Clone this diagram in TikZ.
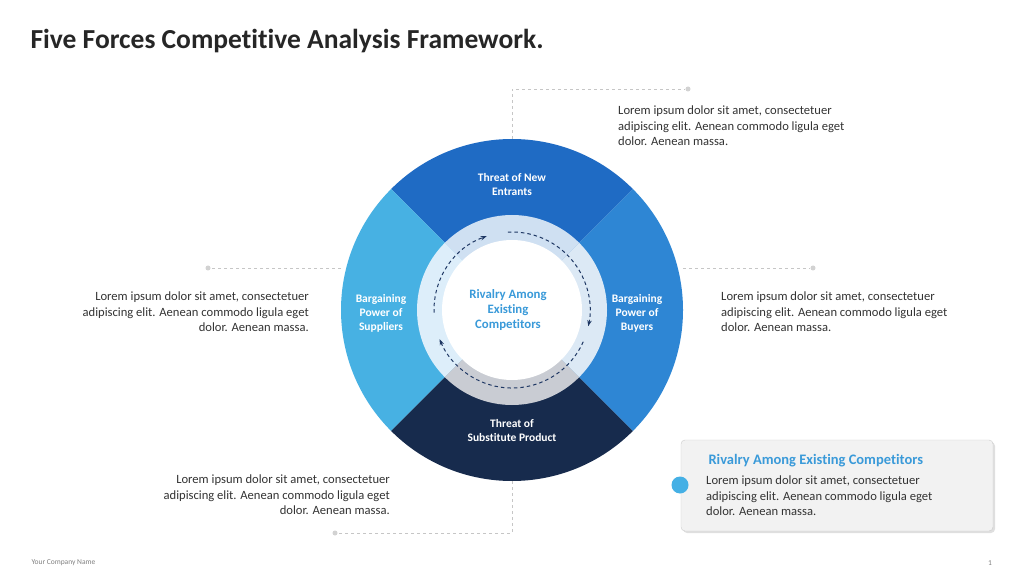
\documentclass[tikz,border=0pt]{standalone}
\usepackage{fontspec}
\setmainfont{Carlito}[Ligatures=NoCommon]
\usetikzlibrary{arrows.meta,shadows,calc}
\definecolor{segT}{HTML}{1F6BC4}
\definecolor{segR}{HTML}{2E86D4}
\definecolor{segB}{HTML}{172B4D}
\definecolor{segL}{HTML}{47B1E3}
\definecolor{rinT}{HTML}{CFE0F2}
\definecolor{rinR}{HTML}{DCE9F5}
\definecolor{rinB}{HTML}{C9CCD3}
\definecolor{rinL}{HTML}{DDEEFA}
\definecolor{accent}{HTML}{3A9AD9}
\definecolor{dotc}{HTML}{45B0E5}
\definecolor{txt}{HTML}{333333}
\definecolor{navy}{HTML}{1F3864}
\begin{document}
\begin{tikzpicture}[x=1pt,y=1pt,
  body/.style={text=txt,font=\fontsize{12.6}{15.5}\selectfont,inner sep=0pt},
  seg/.style={text=white,font=\bfseries\fontsize{11.5}{14}\selectfont,align=center},
  lead/.style={draw=gray!45,dashed,line width=0.8pt},
  enddot/.style={circle,fill=gray!35,inner sep=0pt,minimum size=5pt},
  flow/.style={draw=navy,dash pattern=on 3.5pt off 3pt,line width=1pt,-{Stealth[length=6pt]}}]
\useasboundingbox (0,0) rectangle (1024,576);
\fill[white] (0,0) rectangle (1024,576);
\node[anchor=west,font=\bfseries\fontsize{27.5}{30}\selectfont,text=black!85] (title) at (27,535) {Five Forces Competitive Analysis Framework.};
\coordinate (c) at (512,266);
% outer segments
\fill[segT] (c) -- ++(45:171) arc[start angle=45,end angle=135,radius=171] -- cycle;
\fill[segL] (c) -- ++(135:171) arc[start angle=135,end angle=225,radius=171] -- cycle;
\fill[segB] (c) -- ++(225:171) arc[start angle=225,end angle=315,radius=171] -- cycle;
\fill[segR] (c) -- ++(315:171) arc[start angle=315,end angle=405,radius=171] -- cycle;
% inner ring
\fill[rinT] (c) -- ++(45:95) arc[start angle=45,end angle=135,radius=95] -- cycle;
\fill[rinL] (c) -- ++(135:95) arc[start angle=135,end angle=225,radius=95] -- cycle;
\fill[rinB] (c) -- ++(225:95) arc[start angle=225,end angle=315,radius=95] -- cycle;
\fill[rinR] (c) -- ++(315:95) arc[start angle=315,end angle=405,radius=95] -- cycle;
\fill[white] (c) circle[radius=70];
% flow arrows
\draw[flow] ($(c)+(182:78)$) arc[start angle=182,end angle=109,radius=78];
\draw[flow] ($(c)+(93:78)$) arc[start angle=93,end angle=-12,radius=78];
\draw[flow] ($(c)+(-24:78)$) arc[start angle=-24,end angle=-158,radius=78];
% labels
\node[seg] (nt) at (512,391) {Threat of New\\Entrants};
\node[seg] (ns) at (381,263) {Bargaining\\Power of\\Suppliers};
\node[seg] (nb) at (637,263) {Bargaining\\Power of\\Buyers};
\node[seg] (nsub) at (512,145) {Threat of\\Substitute Product};
\node[text=accent,font=\bfseries\fontsize{12.8}{15}\selectfont,align=center] (ctr) at (508,266) {Rivalry Among\\Existing\\Competitors};
% leaders
\coordinate (t0) at (512,437);
\coordinate (t1) at (512,487);
\node[enddot] (td) at (688,487) {};
\draw[lead] (t0) -- (t1) -- (td);
\coordinate (l0) at (341,308);
\node[enddot] (ld) at (208,308) {};
\draw[lead] (l0) -- (ld);
\coordinate (r0) at (683,308);
\node[enddot] (rd) at (813,308) {};
\draw[lead] (r0) -- (rd);
\coordinate (b0) at (512,95);
\coordinate (b1) at (512,43);
\node[enddot] (bd) at (335,43) {};
\draw[lead] (b0) -- (b1) -- (bd);
% text blocks
\node[body,anchor=north west,align=left] (tt) at (618,470) {Lorem ipsum dolor sit amet, consectetuer\\adipiscing elit. Aenean commodo ligula eget\\dolor. Aenean massa.};
\node[body,anchor=north east,align=right] (lt) at (309,284) {Lorem ipsum dolor sit amet, consectetuer\\adipiscing elit. Aenean commodo ligula eget\\dolor. Aenean massa.};
\node[body,anchor=north west,align=left] (rt) at (721,284) {Lorem ipsum dolor sit amet, consectetuer\\adipiscing elit. Aenean commodo ligula eget\\dolor. Aenean massa.};
\node[body,anchor=north east,align=right] (bt) at (390,101) {Lorem ipsum dolor sit amet, consectetuer\\adipiscing elit. Aenean commodo ligula eget\\dolor. Aenean massa.};
% highlight box
\draw[draw=gray!40,fill=black!5,rounded corners=4pt,drop shadow={shadow xshift=2pt,shadow yshift=-2pt,opacity=0.25}] (681,136) rectangle (993,45);
\node[circle,fill=dotc,inner sep=0pt,minimum size=17pt] (bxd) at (680,91) {};
\node[anchor=west,text=accent,font=\bfseries\fontsize{14.5}{16}\selectfont] (bxt) at (705,115) {Rivalry Among Existing Competitors};
\node[body,anchor=north west,align=left] (bxb) at (706,100) {Lorem ipsum dolor sit amet, consectetuer\\adipiscing elit. Aenean commodo ligula eget\\dolor. Aenean massa.};
% footer
\node[anchor=west,text=gray,font=\fontsize{7.5}{8}\selectfont] (co) at (28,13) {Your Company Name};
\node[text=gray,font=\fontsize{7.5}{8}\selectfont] (pg) at (990,13) {1};
\end{tikzpicture}
\end{document}
